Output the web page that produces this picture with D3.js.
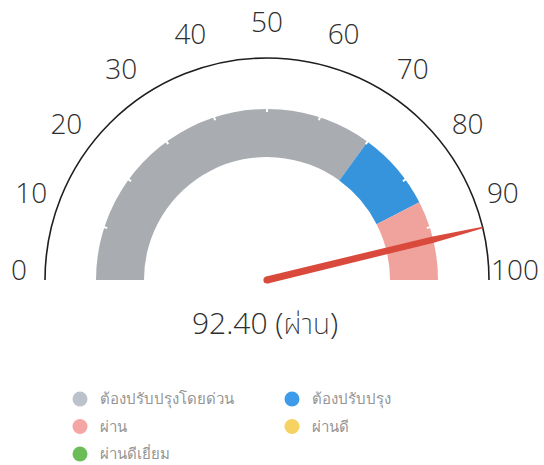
<!DOCTYPE html>
<html>
<head>
<meta charset="utf-8">
<script src="https://cdn.jsdelivr.net/npm/d3@7"></script>
<style>
  body { margin: 0; background: #fff; }
  text { font-family: "Open Sans", "Noto Sans", sans-serif; }
</style>
</head>
<body>
<script>
// gauge data
var value = 92.4;
var valueNumber = "92.40";
var valueStatus = "ผ่าน";
var tickValues = [0, 10, 20, 30, 40, 50, 60, 70, 80, 90, 100];
var bandStarts = [0, 70, 85];
var bandEnds = [70, 85, 100];
var bandColors = ["#a9adb1", "#3594dc", "#f0a29c"];
var legendNames = ["ต้องปรับปรุงโดยด่วน", "ต้องปรับปรุง", "ผ่าน", "ผ่านดี", "ผ่านดีเยี่ยม"];
var legendColors = ["#bcc2cb", "#3e9bea", "#f5a6a4", "#f6d262", "#6cbd58"];

var width = 544, height = 465;
var cx = 267, cy = 280;
var axisR = 222, outerR = 171, innerR = 123, labelR = 248;

var svg = d3.select("body").append("svg")
    .attr("width", width)
    .attr("height", height);

var angle = d3.scaleLinear().domain([0, 100]).range([-Math.PI / 2, Math.PI / 2]);

var g = svg.append("g").attr("transform", "translate(" + cx + "," + cy + ")");

// colour bands
var bandArc = d3.arc().innerRadius(innerR).outerRadius(outerR);
g.selectAll("path.band")
  .data(bandStarts.map(function(s, i) { return {s: s, e: bandEnds[i], c: bandColors[i]}; }))
  .enter().append("path")
  .attr("class", "band")
  .attr("d", function(d) { return bandArc({startAngle: angle(d.s), endAngle: angle(d.e)}); })
  .attr("fill", function(d) { return d.c; });

// little notches on the band edge
g.selectAll("line.notch")
  .data(tickValues.slice(1, -1))
  .enter().append("line")
  .attr("class", "notch")
  .attr("x1", function(d) { return Math.sin(angle(d)) * (outerR - 3); })
  .attr("y1", function(d) { return -Math.cos(angle(d)) * (outerR - 3); })
  .attr("x2", function(d) { return Math.sin(angle(d)) * (outerR + 1); })
  .attr("y2", function(d) { return -Math.cos(angle(d)) * (outerR + 1); })
  .attr("stroke", "#fff")
  .attr("stroke-width", 2);

// outer axis
g.append("path")
  .attr("d", d3.arc().innerRadius(axisR).outerRadius(axisR)({startAngle: angle(0), endAngle: angle(100)}))
  .attr("fill", "none")
  .attr("stroke", "#1e1e1e")
  .attr("stroke-width", 1.6);

// tick labels
g.selectAll("text.tick")
  .data(tickValues)
  .enter().append("text")
  .attr("class", "tick")
  .attr("x", function(d) { return Math.sin(angle(d)) * labelR; })
  .attr("y", function(d) { return -Math.cos(angle(d)) * labelR; })
  .attr("text-anchor", "middle")
  .attr("font-size", 28)
  .attr("font-weight", 300)
  .attr("fill", "#2e2e2e")
  .text(function(d) { return d; });

// needle
var a = angle(value);
var dx = Math.sin(a), dy = -Math.cos(a);
var px = -dy, py = dx;
var tipX = dx * axisR, tipY = dy * axisR;
var grad = svg.append("defs").append("linearGradient")
  .attr("id", "needleGrad")
  .attr("gradientUnits", "userSpaceOnUse")
  .attr("x1", cx).attr("y1", cy)
  .attr("x2", cx + tipX).attr("y2", cy + tipY);
grad.append("stop").attr("offset", 0).attr("stop-color", "#d94a3d");
grad.append("stop").attr("offset", 0.7).attr("stop-color", "#d8483b");
grad.append("stop").attr("offset", 0.92).attr("stop-color", "#e8683a");
grad.append("stop").attr("offset", 1).attr("stop-color", "#f5a23c");

var hw = 3.6, mw = 3.2, tw = 0.8;
var pts = [
  [px * hw, py * hw],
  [dx * 170 + px * mw, dy * 170 + py * mw],
  [tipX + px * tw, tipY + py * tw],
  [tipX - px * tw, tipY - py * tw],
  [dx * 170 - px * mw, dy * 170 - py * mw],
  [-px * hw, -py * hw]
];
g.append("path")
  .attr("d", d3.line()(pts) + "Z")
  .attr("fill", "url(#needleGrad)");
g.append("circle")
  .attr("r", hw)
  .attr("fill", "#d94a3d");

// value text
var vt = svg.append("text")
  .attr("x", cx - 2)
  .attr("y", 334)
  .attr("text-anchor", "middle")
  .attr("font-size", 30)
  .attr("font-weight", 300)
  .attr("fill", "#2e2e2e");
vt.append("tspan").text(valueNumber + " (");
vt.append("tspan")
  .attr("font-family", "'Noto Sans Thai', 'Noto Sans Thai Looped', 'Noto Sans', sans-serif")
  .attr("font-weight", 200)
  .attr("font-size", 28)
  .text(valueStatus);
vt.append("tspan").text(")");

// legend
var legend = svg.append("g");
var items = legend.selectAll("g")
  .data(legendNames)
  .enter().append("g")
  .attr("transform", function(d, i) {
    return "translate(" + (i % 2 === 0 ? 80 : 292) + "," + (399 + Math.floor(i / 2) * 27.5) + ")";
  });
items.append("circle")
  .attr("r", 7.5)
  .attr("fill", function(d, i) { return legendColors[i]; });
items.append("text")
  .attr("x", 20)
  .attr("dy", "0.35em")
  .attr("font-size", 15)
  .attr("font-weight", 300)
  .attr("fill", "#959595")
  .text(function(d) { return d; });
</script>
</body>
</html>
